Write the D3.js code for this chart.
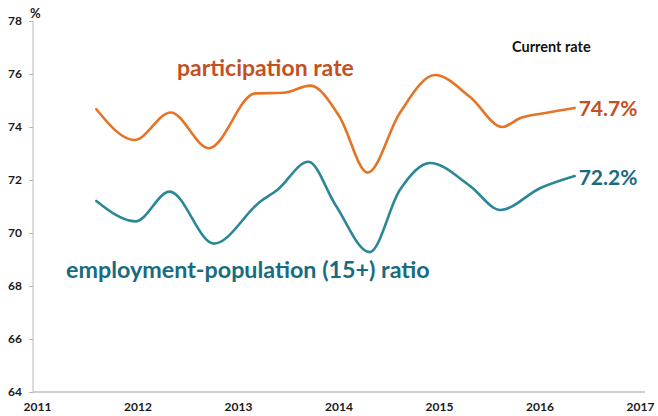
<!DOCTYPE html>
<html>
<head>
<meta charset="utf-8">
<script src="https://cdn.jsdelivr.net/npm/d3@7"></script>
<style>
  html, body { margin: 0; padding: 0; background: #fff; }
  svg { display: block; }
  text { font-family: Lato, "Open Sans", sans-serif; }
</style>
</head>
<body>
<svg id="chart" width="658" height="416"></svg>
<script>
// Data (decimal years, percent)
const yearTicks = [2011, 2012, 2013, 2014, 2015, 2016, 2017];
const valueTicks = [64, 66, 68, 70, 72, 74, 76, 78];

const participationTime  = [2011.59, 2011.97, 2012.33, 2012.71, 2013.17, 2013.45, 2013.72, 2014.01, 2014.29, 2014.61, 2014.96, 2015.31, 2015.63, 2015.81, 2016.06, 2016.35];
const participationValue = [74.67, 73.51, 74.55, 73.20, 75.27, 75.29, 75.56, 74.39, 72.28, 74.53, 75.96, 75.13, 74.00, 74.34, 74.53, 74.72];

const employmentTime  = [2011.59, 2011.98, 2012.32, 2012.76, 2013.22, 2013.39, 2013.70, 2013.97, 2014.31, 2014.61, 2014.91, 2015.31, 2015.61, 2016.01, 2016.35];
const employmentValue = [71.21, 70.44, 71.56, 69.60, 71.18, 71.62, 72.69, 71.06, 69.28, 71.62, 72.64, 71.77, 70.87, 71.70, 72.15];

const seriesNames = ["participation rate", "employment-population (15+) ratio"];
const currentLabels = ["74.7%", "72.2%"];

const W = 658, H = 416;
const svg = d3.select("#chart");

const x = d3.scaleLinear().domain([2011, 2017]).range([37, 640]);
const y = d3.scaleLinear().domain([64, 78]).range([392, 21]);

// Y axis
const yAxis = d3.axisLeft(y).tickValues(valueTicks).tickSize(4).tickPadding(7).tickFormat(d3.format("d"));
const gy = svg.append("g").attr("transform", "translate(33,0)").call(yAxis);
gy.select(".domain").attr("stroke", "#b8b8b8").attr("d", `M0,${y(78)}V${y(64)}`);
gy.selectAll(".tick line").attr("stroke", "#b8b8b8");
gy.selectAll(".tick text").attr("fill", "#1a1a1a").style("font-size", "12px").style("font-weight", "700").attr("x", -11);

// X axis
const xAxis = d3.axisBottom(x).tickValues(yearTicks).tickSize(0).tickPadding(10).tickFormat(d3.format("d"));
const gx = svg.append("g").attr("transform", `translate(0,${y(64)})`).call(xAxis);
gx.select(".domain").attr("stroke", "#cfcfcf").attr("stroke-width", 2).attr("d", "M33,0H645");
gx.selectAll(".tick text").attr("fill", "#1a1a1a").style("font-size", "12px").style("font-weight", "700");

// % label
svg.append("text").attr("x", 30).attr("y", 18).text("%")
  .attr("fill", "#1a1a1a").style("font-size", "13px").style("font-weight", "700");

const line = d3.line().x(d => x(d[0])).y(d => y(d[1])).curve(d3.curveMonotoneX);

const partData = participationTime.map((t, i) => [t, participationValue[i]]);
const empData = employmentTime.map((t, i) => [t, employmentValue[i]]);

svg.append("path").datum(partData).attr("d", line)
  .attr("fill", "none").attr("stroke", "#e57426").attr("stroke-width", 2.6).attr("stroke-linecap", "round");
svg.append("path").datum(empData).attr("d", line)
  .attr("fill", "none").attr("stroke", "#2b8798").attr("stroke-width", 2.6).attr("stroke-linecap", "round");

// Series labels
svg.append("text").attr("x", 177).attr("y", 76).text(seriesNames[0])
  .attr("fill", "#c4501f").style("font-size", "23px").style("font-weight", "700");
svg.append("text").attr("x", 66).attr("y", 278).text(seriesNames[1])
  .attr("fill", "#186b80").style("font-size", "23.3px").style("font-weight", "700");

// Current rate
svg.append("text").attr("x", 512).attr("y", 52).text("Current rate")
  .attr("fill", "#111").style("font-size", "14.5px").style("font-weight", "700");

const lastP = partData[partData.length - 1];
const lastE = empData[empData.length - 1];
svg.append("text").attr("x", x(lastP[0]) + 4).attr("y", y(lastP[1]) + 8).text(currentLabels[0])
  .attr("fill", "#c4501f").style("font-size", "21px").style("font-weight", "700");
svg.append("text").attr("x", x(lastE[0]) + 4).attr("y", y(lastE[1]) + 9).text(currentLabels[1])
  .attr("fill", "#186b80").style("font-size", "21px").style("font-weight", "700");
</script>
</body>
</html>
